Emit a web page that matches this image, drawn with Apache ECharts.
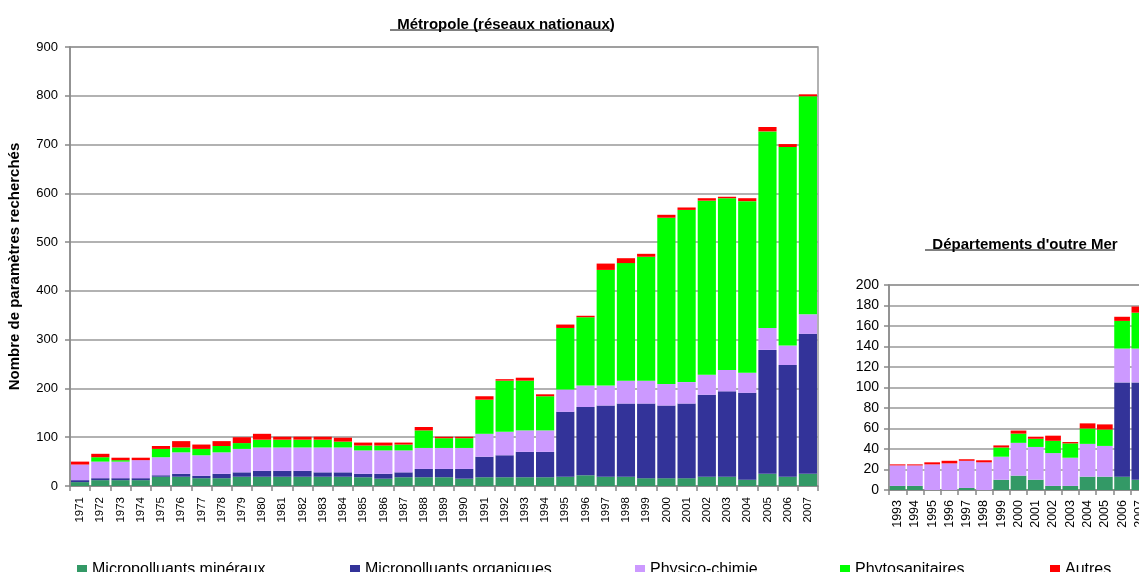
<!DOCTYPE html>
<html><head><meta charset="utf-8">
<script src="https://cdn.jsdelivr.net/npm/echarts@6/dist/echarts.min.js"></script>
<style>html,body{margin:0;padding:0;background:#fff}#c{width:1139px;height:572px}</style>
</head><body><div id="c"></div>
<script>
const seriesNames = ['Micropolluants minéraux','Micropolluants organiques','Physico-chimie','Phytosanitaires','Autres'];
const seriesColors = ['#339966','#333399','#CC99FF','#00FF00','#FF0000'];

const metroYears = ['1971','1972','1973','1974','1975','1976','1977','1978','1979','1980','1981','1982','1983','1984','1985','1986','1987','1988','1989','1990','1991','1992','1993','1994','1995','1996','1997','1998','1999','2000','2001','2002','2003','2004','2005','2006','2007'];
const metroMin = [8,12,12,12,19,19,16,16,19,19,19,19,19,19, 18,15,18,18,18,15,18,18,18,18, 19,22,19,19,16,16,16,19,19,13,25,19,25];
const metroOrg = [4,4,4,4,3,6,5,9,9,12,12,12,9,9, 7,10,10,17,17,20,42,45,52,52, 133,140,146,150,153,149,153,168,175,178,254,229,287];
const metroPhys = [32,34,34,37,37,44,42,44,48,48,48,48,51,51, 48,48,45,43,43,43,47,48,44,44, 46,44,41,47,47,44,44,41,44,41,45,40,40];
const metroPhyto = [0,9,3,0,17,10,13,13,12,16,16,16,16,12, 10,10,12,36,20,20,70,105,102,70, 126,140,237,241,254,341,353,357,352,352,403,407,447];
const metroAutres = [6,7,5,5,6,13,9,10,12,12,6,6,6,8, 6,6,4,7,3,3,7,3,6,4, 7,3,13,10,6,6,5,5,3,6,9,6,4];

const domYears = ['1993','1994','1995','1996','1997','1998','1999','2000','2001','2002','2003','2004','2005','2006','2007'];
const domMin = [4,4,0,0,2,0,10,14,10,4,4,13,13,13,10];
const domOrg = [0,0,0,0,0,0,0,0,0,0,0,0,0,92,95];
const domPhys = [20,20,25,26,26.5,27,22.5,32,32,32,27.5,32,30,33,33];
const domPhyto = [0,0,0,0,0,0,9,9,8,12,14,15,16,27,35];
const domAutres = [1,1,2,2.5,1.5,2,2,3,2,5,1.3,5,5,4,6];

const metroTicks = {min:0,max:900,interval:100};
const domTicks = {min:0,max:200,interval:20};

const FONT = 'Liberation Sans, Arial, sans-serif';

const chart = echarts.init(document.getElementById('c'), null, {renderer:'canvas'});

function xAxisCfg(data, gi, fs, margin){
  return {type:'category', gridIndex:gi, data:data,
    axisLine:{lineStyle:{color:'#888',width:1.5}},
    axisTick:{show:true,interval:0,length:5,lineStyle:{color:'#888',width:1.5}},
    axisLabel:{rotate:90,interval:0,fontSize:fs,color:'#000',fontFamily:FONT,margin:margin,hideOverlap:false},
    splitLine:{show:false}};
}
function yAxisCfg(t, gi, fs, margin, name){
  return {type:'value', gridIndex:gi, min:t.min, max:t.max, interval:t.interval,
    name:name||'', nameLocation:'middle', nameGap:48,
    nameTextStyle:{fontSize:15,fontWeight:'bold',color:'#000',fontFamily:FONT},
    axisLine:{show:true,lineStyle:{color:'#888',width:1.5}},
    axisTick:{show:true,length:5,lineStyle:{color:'#888',width:1.5}},
    axisLabel:{fontSize:fs,color:'#000',fontFamily:FONT,margin:margin},
    splitLine:{show:true,lineStyle:{color:'#999',width:1.5}}};
}
const metroData = [metroMin,metroOrg,metroPhys,metroPhyto,metroAutres];
const domData = [domMin,domOrg,domPhys,domPhyto,domAutres];
const series = [];
seriesNames.forEach((n,i)=>{
  series.push({name:n,type:'bar',stack:'metro',xAxisIndex:0,yAxisIndex:0,data:metroData[i],
    itemStyle:{color:seriesColors[i]},barCategoryGap:'10%'});
});
seriesNames.forEach((n,i)=>{
  series.push({name:n,type:'bar',stack:'dom',xAxisIndex:1,yAxisIndex:1,data:domData[i],
    itemStyle:{color:seriesColors[i]},barCategoryGap:'9%'});
});
const legendLefts = [72,345,630,835,1045];
const legends = seriesNames.map((n,i)=>({data:[n],left:legendLefts[i],top:557,icon:'rect',
  itemWidth:10,itemHeight:10,itemGap:4,textStyle:{fontSize:16,color:'#000',fontFamily:FONT}}));

chart.setOption({
  animation:false,
  backgroundColor:'#fff',
  title:[
    {text:'Métropole (réseaux nationaux)',left:501,top:12,textAlign:'center',
      textStyle:{fontSize:15,fontWeight:'bold',color:'#000',fontFamily:FONT}},
    {text:"Départements d'outre Mer",left:1020,top:232,textAlign:'center',
      textStyle:{fontSize:15,fontWeight:'bold',color:'#000',fontFamily:FONT}}
  ],
  legend:legends,
  grid:[
    {left:70,right:321,top:47,bottom:86,show:true,borderColor:'#999',borderWidth:1.5,backgroundColor:'transparent',outerBoundsMode:'none',containLabel:false},
    {left:889,width:259,top:285,bottom:82,show:true,borderColor:'#999',borderWidth:1.5,backgroundColor:'transparent',outerBoundsMode:'none',containLabel:false}
  ],
  xAxis:[xAxisCfg(metroYears,0,11.5,11), xAxisCfg(domYears,1,12.5,10)],
  yAxis:[yAxisCfg(metroTicks,0,13,12,'Nombre de paramètres recherchés'), yAxisCfg(domTicks,1,14,10,'')],
  series:series,
  graphic:[
    {type:'line',shape:{x1:390,y1:30,x2:612,y2:30},style:{stroke:'#000',lineWidth:1}},
    {type:'line',shape:{x1:925,y1:250,x2:1115,y2:250},style:{stroke:'#000',lineWidth:1}}
  ]
});
</script></body></html>
